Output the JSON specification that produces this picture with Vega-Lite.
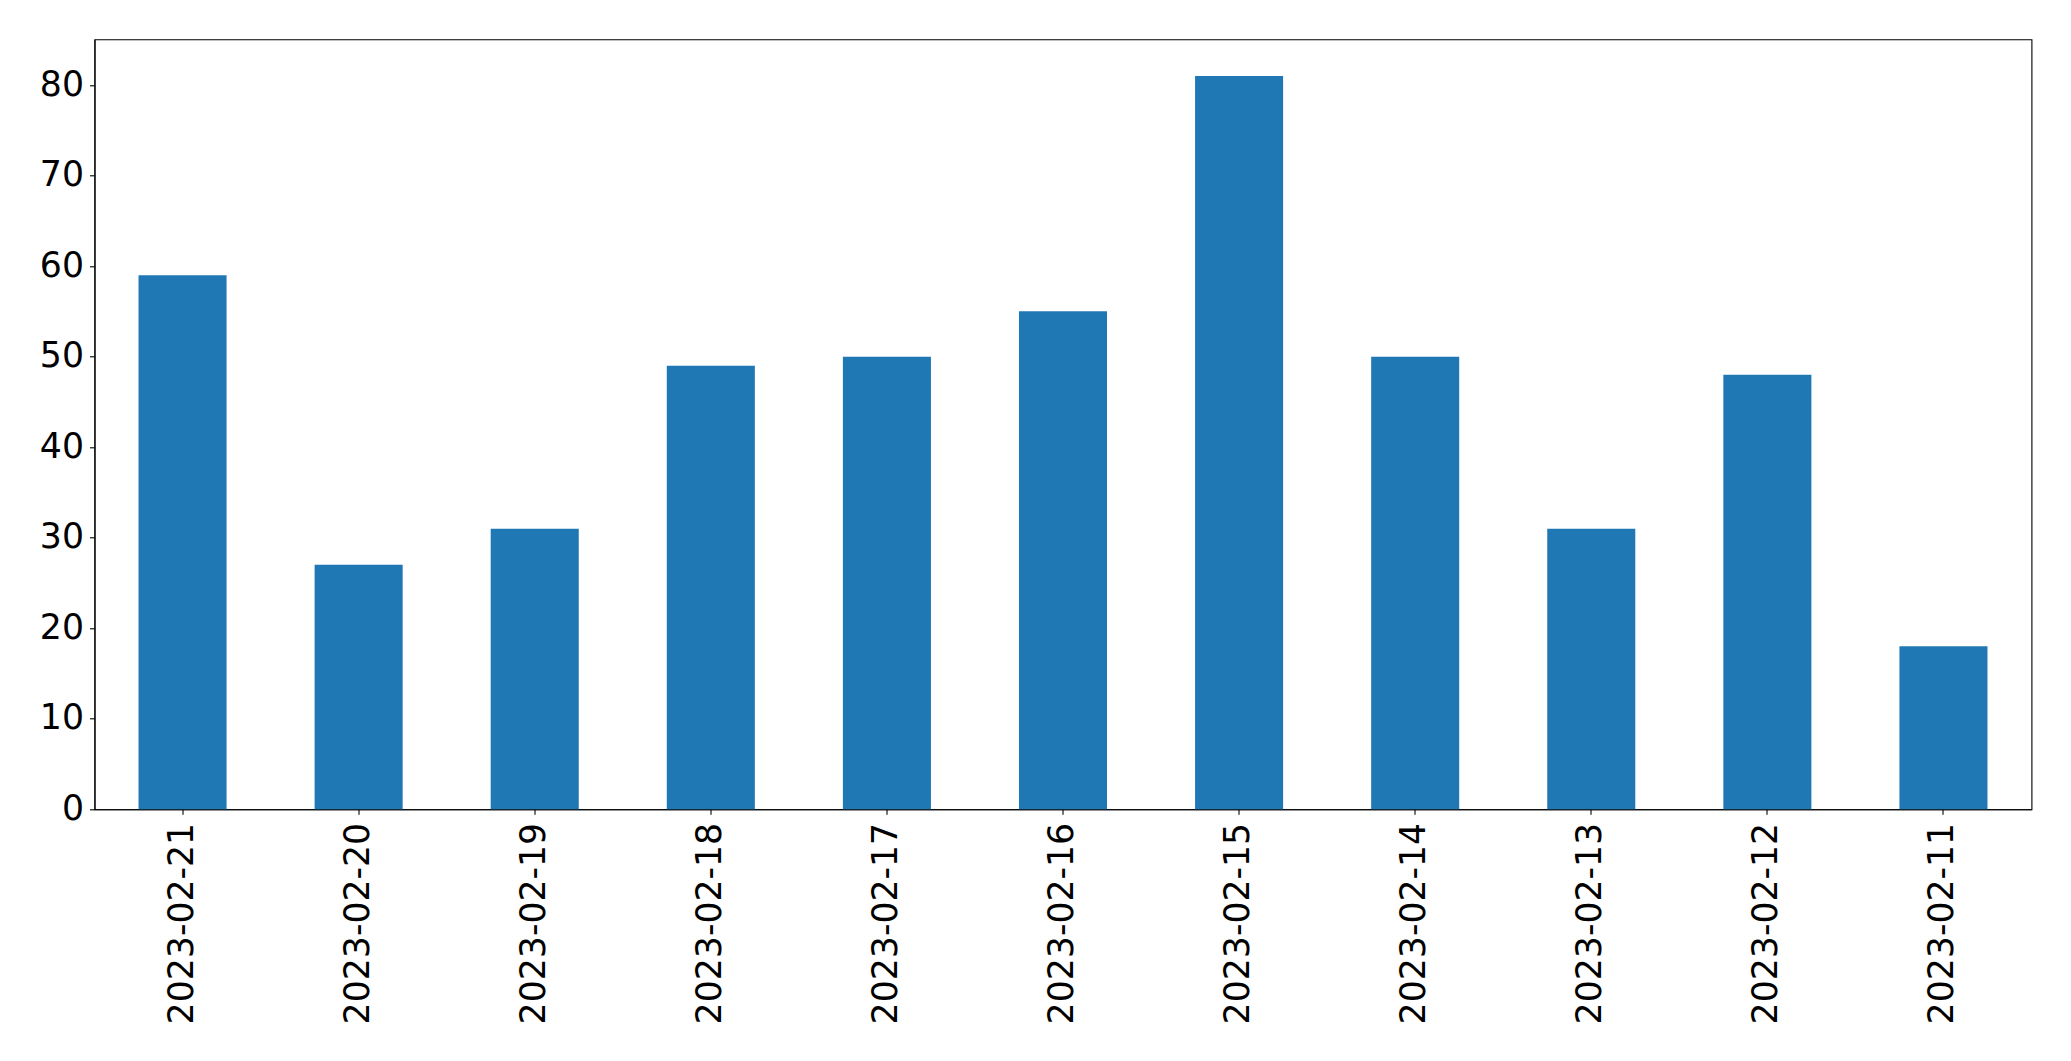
{
  "$schema": "https://vega.github.io/schema/vega-lite/v6.json",
  "width": 1937,
  "height": 770,
  "autosize": {"type": "none"},
  "padding": {"left": 94.5, "top": 39.3, "right": 39.5, "bottom": 251.7},
  "background": "white",
  "config": {
    "view": {"stroke": "black", "strokeWidth": 1.1},
    "font": "DejaVu Sans",
    "axis": {
      "labelFont": "DejaVu Sans",
      "labelFontSize": 34.7,
      "labelColor": "black",
      "labelLimit": 0,
      "domainColor": "black",
      "domainWidth": 1.1,
      "tickColor": "black",
      "tickWidth": 1.1,
      "tickSize": 5,
      "labelPadding": 6,
      "grid": false,
      "title": null
    }
  },
  "data": {
    "values": [
      {"date": "2023-02-21", "count": 59},
      {"date": "2023-02-20", "count": 27},
      {"date": "2023-02-19", "count": 31},
      {"date": "2023-02-18", "count": 49},
      {"date": "2023-02-17", "count": 50},
      {"date": "2023-02-16", "count": 55},
      {"date": "2023-02-15", "count": 81},
      {"date": "2023-02-14", "count": 50},
      {"date": "2023-02-13", "count": 31},
      {"date": "2023-02-12", "count": 48},
      {"date": "2023-02-11", "count": 18}
    ]
  },
  "mark": {"type": "bar", "color": "#1f77b4"},
  "encoding": {
    "x": {
      "field": "date",
      "type": "nominal",
      "sort": null,
      "scale": {"paddingInner": 0.5, "paddingOuter": 0.25},
      "axis": {"labelAngle": -90, "labelPadding": 8}
    },
    "y": {
      "field": "count",
      "type": "quantitative",
      "scale": {"domain": [0, 85.05], "nice": false, "zero": true},
      "axis": {"values": [0, 10, 20, 30, 40, 50, 60, 70, 80]}
    }
  }
}
